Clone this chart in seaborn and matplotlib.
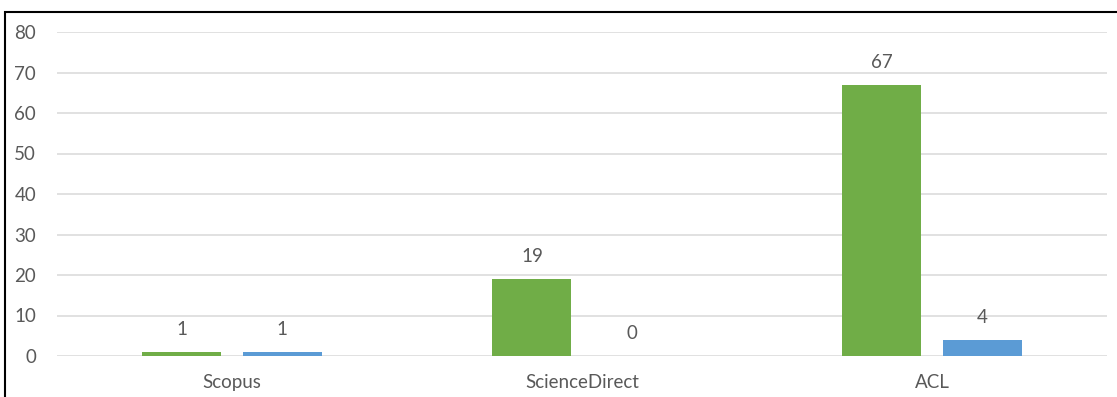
import matplotlib
matplotlib.use("Agg")
import matplotlib.pyplot as plt
import seaborn as sns
import pandas as pd
from matplotlib.patches import Rectangle

categories = ["Scopus", "ScienceDirect", "ACL"]
series_names = ["Series A", "Series B"]
series_a = [1, 19, 67]
series_b = [1, 0, 4]
yticks = [0, 10, 20, 30, 40, 50, 60, 70, 80]

df = pd.DataFrame({
    "source": categories * 2,
    "series": [series_names[0]] * 3 + [series_names[1]] * 3,
    "value": series_a + series_b,
})

sns.set_theme(style="white")
plt.rcParams["font.family"] = ["Lato", "DejaVu Sans"]
text_color = "#595959"
fs = 13.5

fig = plt.figure(figsize=(11.17, 3.97), dpi=100)
ax = fig.add_axes([57 / 1117, 41 / 397, 1050 / 1117, 324 / 397])

sns.barplot(data=df, x="source", y="value", hue="series", order=categories,
            hue_order=series_names, palette=["#70AD47", "#5B9BD5"],
            width=0.572, gap=0.21, ax=ax, legend=False, saturation=1,
            edgecolor="none", linewidth=0)

for cont in ax.containers:
    ax.bar_label(cont, padding=10, color=text_color, fontsize=fs)

ax.set_xlim(-0.5, 2.5)
ax.set_ylim(0, 80)
ax.set_yticks(yticks)
ax.yaxis.grid(True, color="#D9D9D9", linewidth=1.1)
ax.set_axisbelow(True)
for s in ax.spines.values():
    s.set_visible(False)
ax.set_xlabel("")
ax.set_ylabel("")
ax.tick_params(axis="y", length=0, pad=15, labelsize=fs, labelcolor=text_color)
ax.tick_params(axis="x", length=0, pad=13, labelsize=fs, labelcolor=text_color)

# outer chart border (left and top visible in the crop)
fig.patches.append(Rectangle((4.5 / 1117, -0.1), 1.2, (397 - 12.5) / 397 + 0.1,
                             transform=fig.transFigure, fill=False,
                             edgecolor="black", linewidth=1.5))

fig.savefig("out.png", dpi=100)
